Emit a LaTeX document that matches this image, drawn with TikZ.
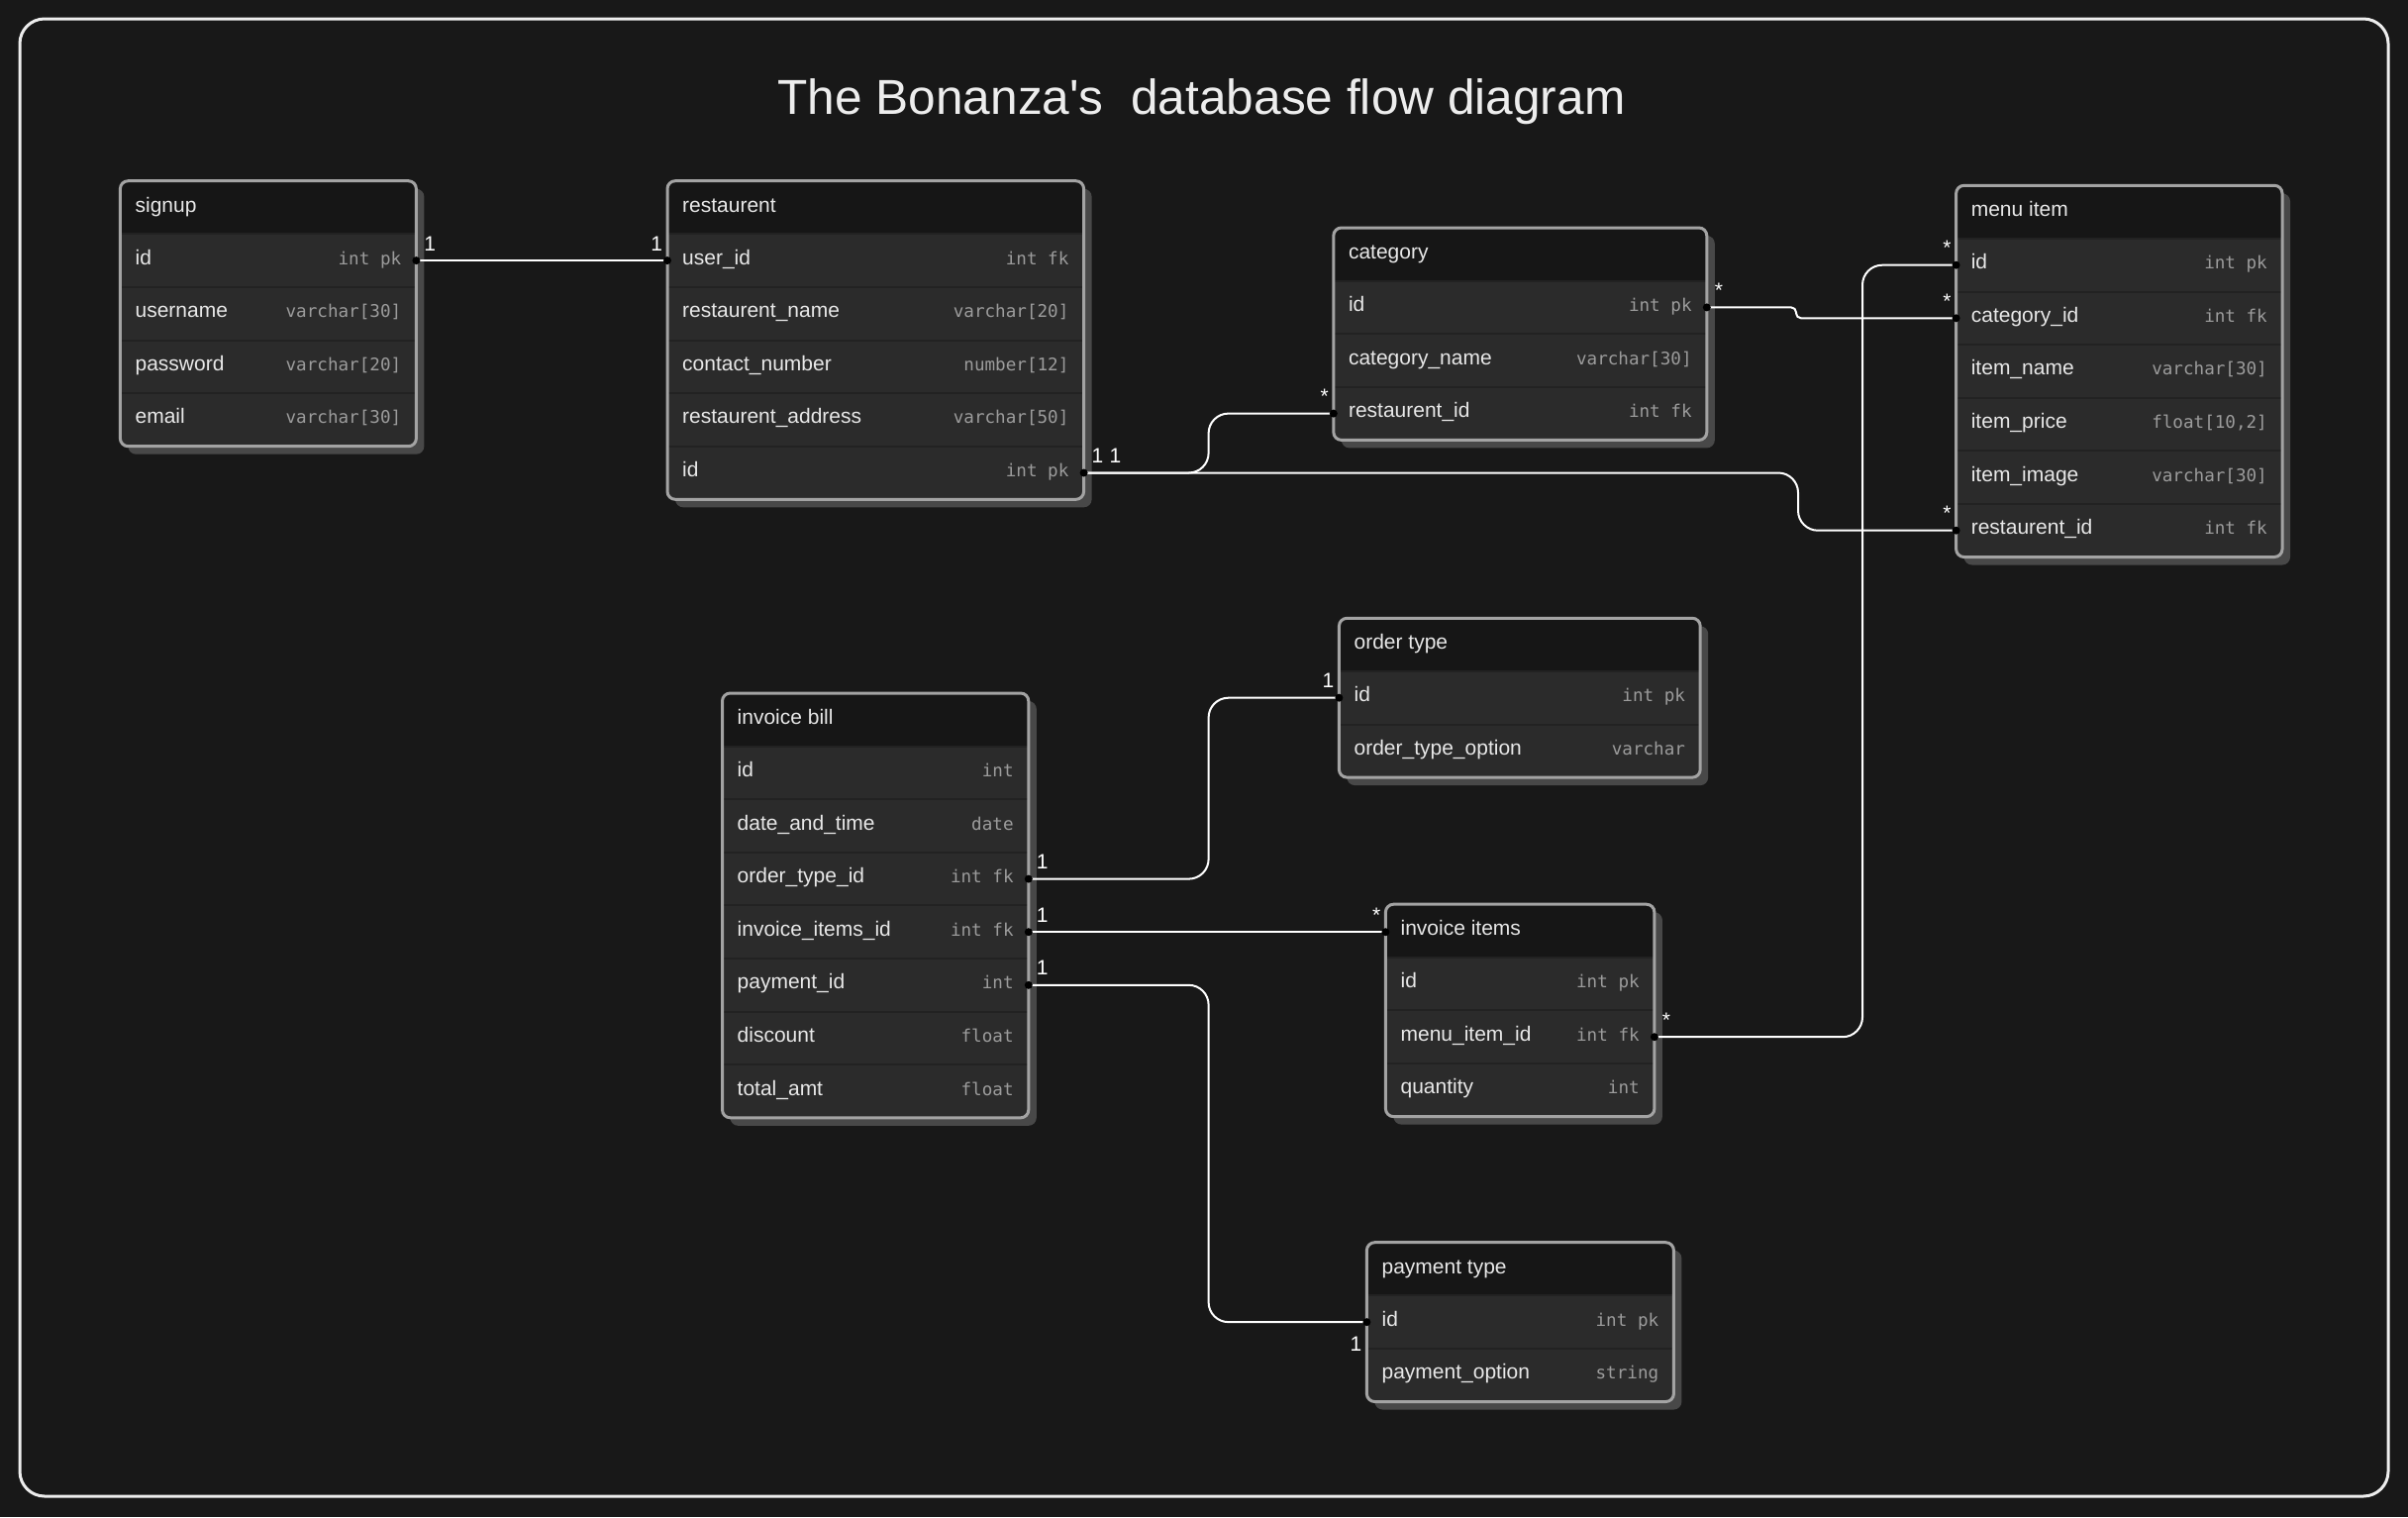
\documentclass[tikz,border=0pt]{standalone}
\usepackage{fontspec}
\setmainfont{Liberation Sans}
\setmonofont{DejaVu Sans Mono}
\newfontfamily\plainsans[Ligatures=TeXOff]{Liberation Sans}
\definecolor{bgc}{HTML}{181818}
\definecolor{headc}{HTML}{161616}
\definecolor{rowc}{HTML}{2B2B2B}
\definecolor{sepc}{HTML}{222222}
\definecolor{borderc}{HTML}{A3A3A3}
\definecolor{shadowc}{HTML}{484848}
\definecolor{namec}{HTML}{E8E8E8}
\definecolor{typec}{HTML}{9C9C9C}
\definecolor{framec}{HTML}{EDEDED}
\tikzset{
  fieldname/.style={anchor=base west, inner sep=0pt, text=namec, font=\fontsize{21}{25}\selectfont},
  fieldtype/.style={anchor=base east, inner sep=0pt, text=typec, font=\ttfamily\fontsize{17.6}{20}\selectfont},
  rowcell/.style={anchor=north west, inner sep=0pt, outer sep=0pt, minimum height=53.6pt},
  conn/.style={draw=white, line width=2pt, rounded corners=20pt},
  lblR/.style={anchor=base west, inner sep=0pt, text=white, font=\fontsize{21}{25}\selectfont, xshift=7pt, yshift=10pt},
  lblL/.style={anchor=base east, inner sep=0pt, text=white, font=\fontsize{21}{25}\selectfont, xshift=-4pt, yshift=10pt},
  lblLb/.style={anchor=base east, inner sep=0pt, text=white, font=\fontsize{21}{25}\selectfont, xshift=-4pt, yshift=-29pt},
  titletext/.style={anchor=base, inner sep=0pt, text=framec, font=\plainsans\fontsize{49.6}{60}\selectfont},
}
% #1 id, #2 left, #3 top, #4 width, #5 number of rows, #6 title, #7 rows
\newcommand{\dbtable}[7]{%
  \pgfmathsetmacro{\tabH}{53.6*(#5+1)}%
  \fill[shadowc, rounded corners=8pt] ({#2+8},{#3+8}) rectangle ++(#4,\tabH);
  \begin{scope}
    \clip[rounded corners=8pt] (#2,#3) rectangle ++(#4,\tabH);
    \fill[rowc] (#2,#3) rectangle ++(#4,\tabH);
    \fill[headc] (#2,#3) rectangle ++(#4,53.6);
    \foreach \k in {1,...,#5} \draw[sepc, line width=2pt] (#2,{#3+53.6*\k}) -- ++(#4,0);
  \end{scope}
  \node[rowcell, minimum width=#4pt] (#1-r0) at (#2,#3) {};
  \node[fieldname] (#1-title) at ({#2+15},{#3+26.8+4.5}) {#6};
  \foreach \nm/\ty [count=\i] in {#7} {
    \node[rowcell, minimum width=#4pt] (#1-r\i) at (#2,{#3+53.6*\i}) {};
    \node[fieldname] (#1-n\i) at ({#2+15},{#3+53.6*\i+26.8+4}) {\nm};
    \node[fieldtype] (#1-t\i) at ({#2+#4-15},{#3+53.6*\i+26.8+4}) {\ty};
  }
  \draw[borderc, line width=3pt, rounded corners=8pt] (#2,#3) rectangle ++(#4,\tabH);
}
\begin{document}
\begin{tikzpicture}[x=1pt, y=-1pt]
\useasboundingbox (0,0) rectangle (2432,1532);
\fill[bgc] (0,0) rectangle (2432,1532);
\draw[framec, line width=3pt, rounded corners=25pt] (20,19) rectangle (2412,1511);
\node[titletext] (title) at (1213.5,115) {The Bonanza's~ database flow diagram};

\dbtable{signup}{121.4}{182.7}{299}{4}{signup}{id/int pk, username/varchar[30], password/varchar[20], email/varchar[30]}
\dbtable{rest}{674}{182.7}{420.6}{5}{restaurent}{user\_id/int fk, restaurent\_name/varchar[20], contact\_number/number[12], restaurent\_address/varchar[50], id/int pk}
\dbtable{cat}{1346.8}{230}{377}{3}{category}{id/int pk, category\_name/varchar[30], restaurent\_id/int fk}
\dbtable{menu}{1975.6}{187.3}{329.4}{6}{menu item}{id/int pk, category\_id/int fk, item\_name/varchar[30], item\_price/{float[10,2]}, item\_image/varchar[30], restaurent\_id/int fk}
\dbtable{bill}{729.5}{700}{309.3}{7}{invoice bill}{id/int, date\_and\_time/date, order\_type\_id/int fk, invoice\_items\_id/int fk, payment\_id/int, discount/float, total\_amt/float}
\dbtable{ot}{1352.4}{624.3}{364.8}{2}{order type}{id/int pk, order\_type\_option/varchar}
\dbtable{items}{1399.4}{913.2}{271.5}{3}{invoice items}{id/int pk, menu\_item\_id/int fk, quantity/int}
\dbtable{pay}{1380.4}{1254.7}{310}{2}{payment type}{id/int pk, payment\_option/string}

\coordinate (vA) at (1220.6,0);
\coordinate (vB) at (1816,0);
\coordinate (vC) at (1881,0);
\coordinate (vD) at (1814,0);

\draw[conn] (signup-r1.east) node[lblR]{1} -- (rest-r1.west) node[lblL]{1};
\draw[conn] (rest-r5.east) node[lblR]{1} -- (rest-r5.east -| vA) -- (vA |- cat-r3.west) -- (cat-r3.west) node[lblL]{*};
\draw[conn] (rest-r5.east) node[lblR, xshift=18pt]{1} -- (rest-r5.east -| vB) -- (vB |- menu-r6.west) -- (menu-r6.west) node[lblL]{*};
\draw[conn, rounded corners=5pt] (cat-r1.east) node[lblR]{*} -- (cat-r1.east -| vD) -- (vD |- menu-r2.west) -- (menu-r2.west) node[lblL]{*};
\draw[conn] (items-r2.east) node[lblR]{*} -- (items-r2.east -| vC) -- (vC |- menu-r1.west) -- (menu-r1.west) node[lblL]{*};
\draw[conn] (bill-r3.east) node[lblR]{1} -- (bill-r3.east -| vA) -- (vA |- ot-r1.west) -- (ot-r1.west) node[lblL]{1};
\draw[conn] (bill-r4.east) node[lblR]{1} -- (bill-r4.east -| items-r0.west) node[lblL]{*};
\draw[conn] (bill-r5.east) node[lblR]{1} -- (bill-r5.east -| vA) -- (vA |- pay-r1.west) -- (pay-r1.west) node[lblLb]{1};

\foreach \p in {signup-r1.east, rest-r1.west, rest-r5.east, cat-r3.west, menu-r6.west, cat-r1.east, menu-r2.west, items-r2.east, menu-r1.west, bill-r3.east, ot-r1.west, bill-r4.east, bill-r5.east, pay-r1.west}
  \fill[black] (\p) circle (4pt);
\fill[black] (bill-r4.east -| items-r0.west) circle (4pt);
\end{tikzpicture}
\end{document}
